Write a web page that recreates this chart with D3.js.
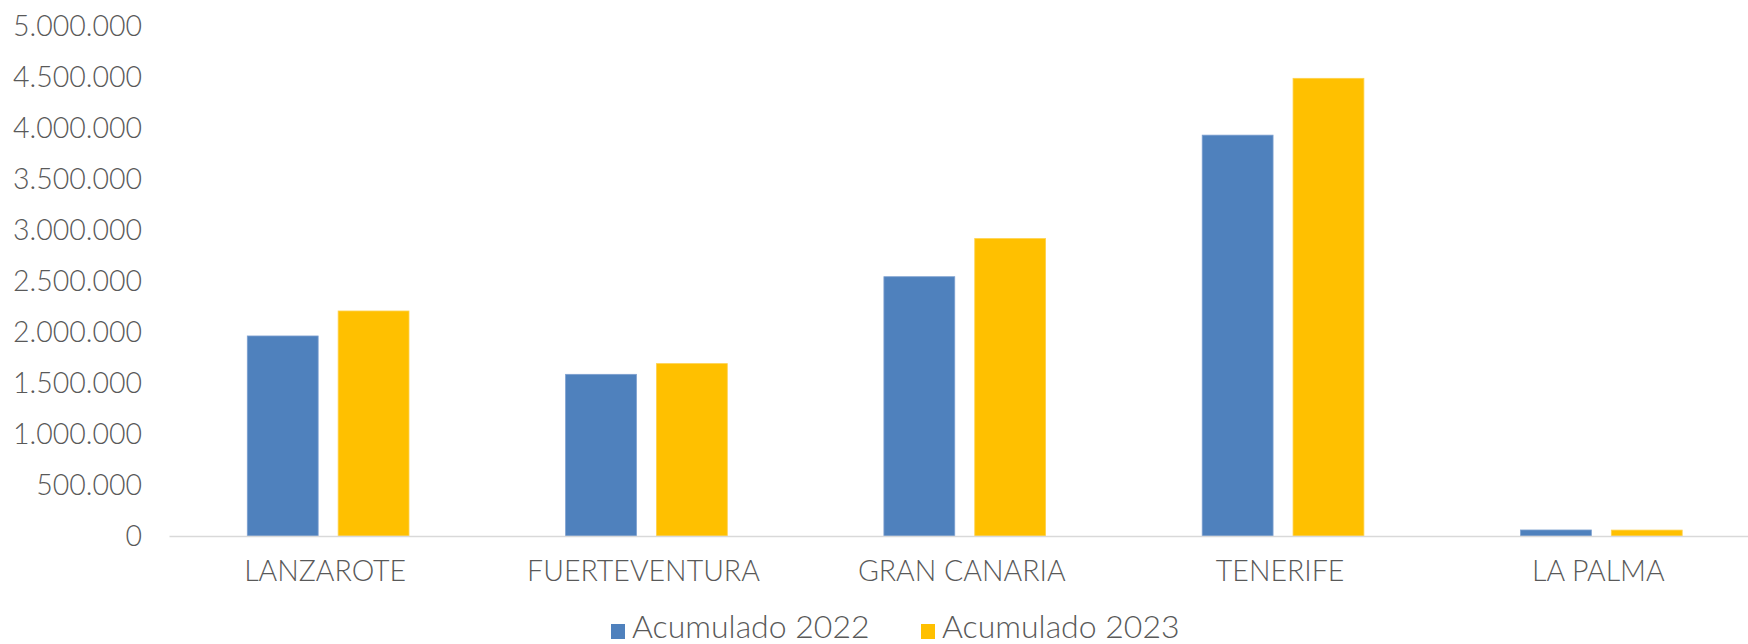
<!DOCTYPE html>
<html>
<head>
<meta charset="utf-8">
<script src="https://cdn.jsdelivr.net/npm/d3@7"></script>
<style>
  body { margin: 0; background: #fff; }
  svg text { font-family: 'Century Gothic', Lato, 'DejaVu Sans', sans-serif; font-weight: 300; fill: #595959; }
</style>
</head>
<body>
<svg id="chart" width="1748" height="644"></svg>
<script>
// islands and cumulative passengers
var islands = ['LANZAROTE', 'FUERTEVENTURA', 'GRAN CANARIA', 'TENERIFE', 'LA PALMA'];
var acum2022 = [1961000, 1585000, 2542000, 3930000, 59000];
var acum2023 = [2206000, 1690000, 2916000, 4487000, 58000];
var seriesNames = ['Acumulado 2022', 'Acumulado 2023'];
var seriesColors = ['#4f81bd', '#ffc000'];
var yTicks = [0, 500000, 1000000, 1500000, 2000000, 2500000, 3000000, 3500000, 4000000, 4500000, 5000000];

var svg = d3.select('#chart');

var x = d3.scaleBand()
  .domain(islands)
  .range([169, 1760.5])
  .paddingInner(0)
  .paddingOuter(0);

var y = d3.scaleLinear()
  .domain([0, 5000000])
  .range([536, 26]);

var inner = d3.scaleBand()
  .domain([0, 1])
  .range([x.bandwidth() * 0.246, x.bandwidth() * 0.754])
  .paddingInner(0.22);

var fmt = function(d) {
  return d3.format(',')(d).replace(/,/g, '.');
};

// y axis labels
var yAxis = svg.append('g')
  .attr('transform', 'translate(169,0)')
  .call(d3.axisLeft(y).tickValues(yTicks).tickFormat(fmt).tickSize(0).tickPadding(27));
yAxis.select('.domain').remove();
yAxis.selectAll('text')
  .style('font-size', '28.5px')
  .attr('dy', '0.35em');

// bars
var data = islands.map(function(d, i) { return { island: d, values: [acum2022[i], acum2023[i]] }; });

var groups = svg.selectAll('g.island')
  .data(data)
  .enter().append('g')
  .attr('class', 'island')
  .attr('transform', function(d) { return 'translate(' + x(d.island) + ',0)'; });

groups.selectAll('rect')
  .data(function(d) { return d.values; })
  .enter().append('rect')
  .attr('x', function(d, i) { return inner(i); })
  .attr('width', inner.bandwidth())
  .attr('y', function(d) { return y(d); })
  .attr('height', function(d) { return y(0) - y(d); })
  .attr('fill', function(d, i) { return seriesColors[i]; })
  .attr('stroke', function(d, i) { return i === 0 ? '#7da0d0' : '#ffd24d'; })
  .attr('stroke-width', 0.8);

// x axis line and labels
var xAxis = svg.append('g')
  .attr('transform', 'translate(0,' + y(0) + ')')
  .call(d3.axisBottom(x).tickSize(0).tickPadding(25));
xAxis.select('.domain')
  .attr('stroke', '#d9d9d9')
  .attr('stroke-width', 1.6);
xAxis.selectAll('text')
  .style('font-size', '28.5px')
  .attr('dx', '-3')
  .attr('dy', '0.71em');

// legend
var legendX = [611, 921];
var legend = svg.selectAll('g.legend')
  .data(seriesNames)
  .enter().append('g')
  .attr('class', 'legend')
  .attr('transform', function(d, i) { return 'translate(' + legendX[i] + ',0)'; });

legend.append('rect')
  .attr('x', 0)
  .attr('y', 624)
  .attr('width', 14)
  .attr('height', 15)
  .attr('fill', function(d, i) { return seriesColors[i]; });

legend.append('text')
  .attr('x', 21)
  .attr('y', 638)
  .style('font-size', '32px')
  .text(function(d) { return d; });
</script>
</body>
</html>
